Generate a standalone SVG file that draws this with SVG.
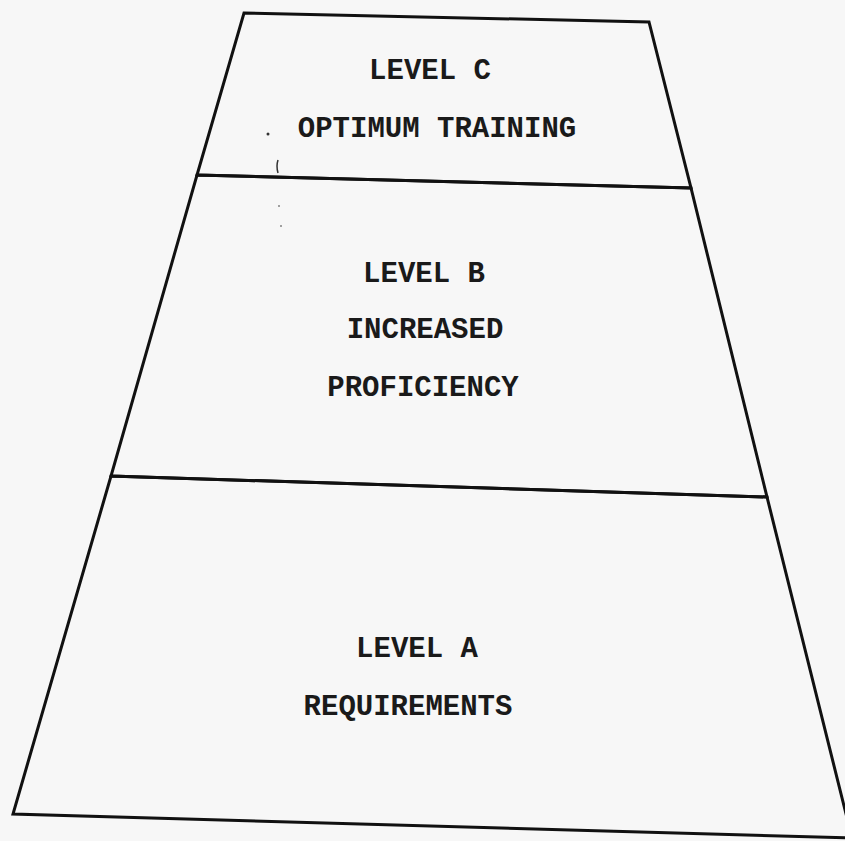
<svg xmlns="http://www.w3.org/2000/svg" width="845" height="841" viewBox="0 0 845 841">
<style>
.lvl{fill:none;stroke:#111;stroke-width:3;stroke-linejoin:miter}
.t{font-family:"Liberation Mono","Courier New",monospace;font-weight:bold;font-size:29px;fill:#1a1a1a;text-anchor:middle}
.speck{fill:#333}
</style>
<rect x="0" y="0" width="845" height="841" fill="#f7f7f7"/>
<g id="level-c">
<polygon class="lvl" points="244,13 649,22 691,188 197,175"/>
<text class="t" x="430" y="79">LEVEL C</text>
<text class="t" x="437" y="137">OPTIMUM TRAINING</text>
</g>
<g id="level-b">
<polygon class="lvl" points="197,175 691,188 767,497 111,476"/>
<text class="t" x="424" y="282">LEVEL B</text>
<text class="t" x="425" y="338">INCREASED</text>
<text class="t" x="423" y="396">PROFICIENCY</text>
</g>
<g id="level-a">
<polygon class="lvl" points="111,476 767,497 852,838 13,814"/>
<text class="t" x="417" y="657">LEVEL A</text>
<text class="t" x="408" y="715">REQUIREMENTS</text>
</g>
<g id="marks">
<circle class="speck" cx="268" cy="134" r="1.5"/>
<path d="M278,160 q-2,6 0,13" stroke="#333" stroke-width="1.5" fill="none"/>
<circle class="speck" cx="279" cy="206" r="0.8"/>
<circle class="speck" cx="281" cy="226" r="0.8"/>
</g>
<g id="connectors"></g>
</svg>
